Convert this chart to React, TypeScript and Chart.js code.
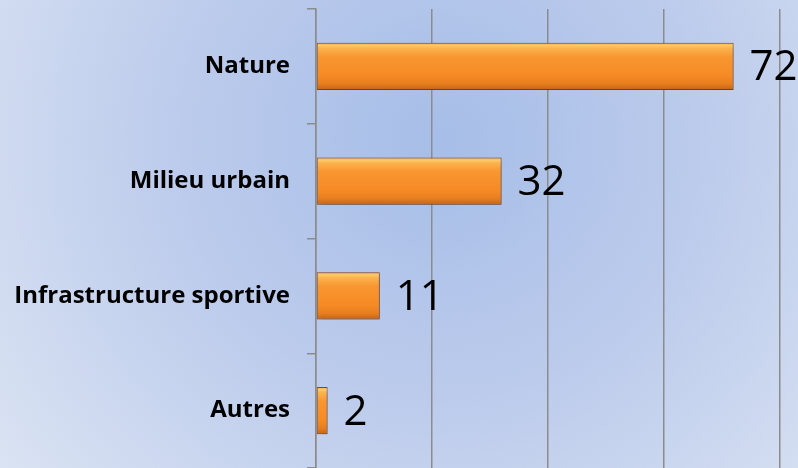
import React, { useEffect, useRef } from "react";
import { Chart, registerables } from "chart.js";
Chart.register(...registerables);

const categories = ["Nature", "Milieu urbain", "Infrastructure sportive", "Autres"];
const values = [72, 32, 11, 2];
const xMin = 0;
const xMax = 80;
const xStep = 20;

const BAR_PCT = 0.41;

function barGradient(ctx: any) {
  const chart = ctx.chart;
  const ys = chart.scales && chart.scales.y;
  if (!ys || ctx.dataIndex === undefined) return "#f7902a";
  const c = ys.getPixelForValue(ctx.dataIndex);
  const h = (ys.height / categories.length) * BAR_PCT;
  const top = c - h / 2;
  const bot = c + h / 2;
  if (!isFinite(top) || !isFinite(bot) || bot <= top) return "#f7902a";
  const g = chart.ctx.createLinearGradient(0, top, 0, bot);
  g.addColorStop(0, "#f6a03c");
  g.addColorStop(0.05, "#fdca6c");
  g.addColorStop(0.12, "#fbb24c");
  g.addColorStop(0.3, "#f99630");
  g.addColorStop(0.7, "#f68a25");
  g.addColorStop(0.87, "#e77e1f");
  g.addColorStop(1, "#c4641a");
  return g;
}

const bgPlugin = {
  id: "bg",
  beforeDraw(chart: any) {
    const { ctx, width, height } = chart;
    ctx.save();
    const g = ctx.createRadialGradient(440, 140, 10, 440, 140, 560);
    g.addColorStop(0, "#a7bee8");
    g.addColorStop(0.45, "#bccbec");
    g.addColorStop(1, "#dbe4f3");
    ctx.fillStyle = g;
    ctx.fillRect(0, 0, width, height);
    ctx.restore();
  },
};

const shadowPlugin = {
  id: "barShadow",
  beforeDatasetsDraw(chart: any) {
    const ctx = chart.ctx;
    ctx.save();
    ctx.shadowColor = "rgba(40,40,60,0.35)";
    ctx.shadowBlur = 6;
    ctx.shadowOffsetX = 2;
    ctx.shadowOffsetY = 3;
  },
  afterDatasetsDraw(chart: any) {
    chart.ctx.restore();
  },
};

const valueLabelPlugin = {
  id: "valueLabels",
  afterDatasetsDraw(chart: any) {
    const ctx = chart.ctx;
    const meta = chart.getDatasetMeta(0);
    ctx.save();
    ctx.fillStyle = "#000";
    ctx.font = "42px 'Open Sans'";
    ctx.textAlign = "left";
    ctx.textBaseline = "middle";
    meta.data.forEach((el: any, i: number) => {
      ctx.fillText(String(values[i]), el.x + 16, el.y + 2);
    });
    ctx.restore();
  },
};

export default function App() {
  const ref = useRef<HTMLCanvasElement | null>(null);
  useEffect(() => {
    if (!ref.current) return;
    const chart = new Chart(ref.current, {
      type: "bar",
      data: {
        labels: categories,
        datasets: [
          {
            data: values,
            backgroundColor: barGradient,
            borderColor: "#8f4a12",
            borderWidth: 1,
            borderSkipped: false,
            barPercentage: BAR_PCT,
            categoryPercentage: 1,
          },
        ],
      },
      options: {
        indexAxis: "y",
        animation: false,
        responsive: false,
        maintainAspectRatio: false,
        layout: { padding: { top: 9, right: 18, bottom: 0, left: 0 } },
        plugins: { legend: { display: false }, tooltip: { enabled: false } },
        scales: {
          x: {
            min: xMin,
            max: xMax,
            ticks: { display: false, stepSize: xStep },
            grid: { color: "#8c8c8c", lineWidth: 1.5, drawTicks: false },
            border: { display: false },
            afterFit: (s: any) => {
              s.height = 0;
              s.paddingLeft = 0;
              s.paddingRight = 0;
              s.paddingTop = 0;
              s.paddingBottom = 0;
            },
          },
          y: {
            type: "category",
            grid: {
              offset: true,
              drawOnChartArea: false,
              drawTicks: true,
              tickLength: 9,
              color: "#8c8c8c",
              lineWidth: 1.5,
            },
            border: { display: true, color: "#8c8c8c", width: 1.5 },
            ticks: {
              padding: 17,
              color: "#000",
              font: { family: "'Open Sans'", weight: "bold", size: 24 },
            },
            afterFit: (s: any) => {
              s.width = 316;
              s.paddingTop = 0;
              s.paddingBottom = 0;
              s.paddingLeft = 0;
              s.paddingRight = 0;
            },
          },
        },
      },
      plugins: [bgPlugin, shadowPlugin, valueLabelPlugin],
    } as any);
    return () => chart.destroy();
  }, []);
  return (
    <div style={{ position: "fixed", left: 0, top: 0, width: 798, height: 468 }}>
      <canvas ref={ref} width={798} height={468} style={{ width: 798, height: 468, display: "block" }} />
    </div>
  );
}
